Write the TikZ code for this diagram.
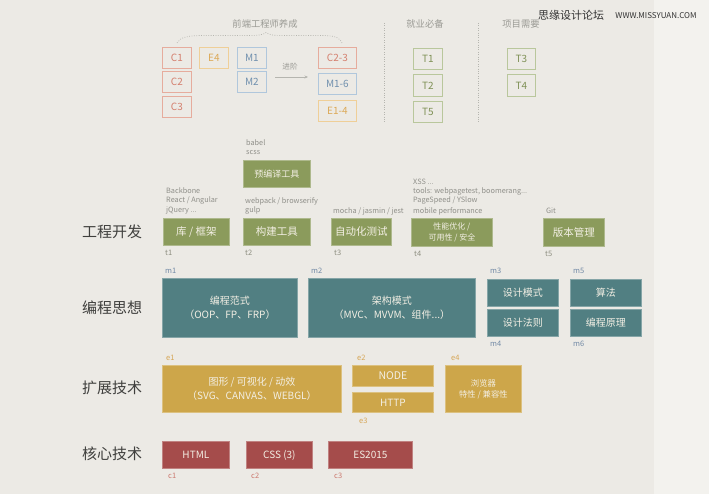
\documentclass[tikz,border=0pt]{standalone}
\usepackage{fontspec}
\newfontfamily\cjk{Noto Sans CJK SC}
\usetikzlibrary{arrows.meta}
\definecolor{bgcol}{HTML}{ECEAE5}
\definecolor{bgright}{HTML}{F3F2EE}
\definecolor{cborder}{HTML}{E6AC9D}
\definecolor{ctext}{HTML}{D47F6E}
\definecolor{eborder}{HTML}{EFCF98}
\definecolor{etext}{HTML}{DCA957}
\definecolor{mborder}{HTML}{B0C7DC}
\definecolor{mtext}{HTML}{7090AE}
\definecolor{tborder}{HTML}{B9C79C}
\definecolor{ttext}{HTML}{7F9156}
\definecolor{fgreen}{HTML}{8B9B5C}
\definecolor{fteal}{HTML}{517F82}
\definecolor{fgold}{HTML}{CDA64A}
\definecolor{fred}{HTML}{A54C4B}
\definecolor{boxtext}{HTML}{F3EFE4}
\definecolor{graytxt}{HTML}{8F8F89}
\definecolor{headtxt}{HTML}{9A9A94}
\definecolor{rowtxt}{HTML}{3F3F3D}
\definecolor{tlab}{HTML}{8D8E80}
\definecolor{mlab}{HTML}{7189A5}
\definecolor{elab}{HTML}{D6A656}
\definecolor{clab}{HTML}{CC7A70}
\definecolor{sepcol}{HTML}{B5B5AF}
\tikzset{
  every node/.style={font=\cjk, inner sep=0pt, align=center},
  obox/.style={draw=#1border, text=#1text, line width=0.8pt, anchor=north west,
    minimum width=29pt, minimum height=21pt, font=\cjk\fontsize{10}{12}\selectfont},
  fbox/.style={draw=#1!70!white, fill=#1, text=boxtext, line width=0.8pt, anchor=north west,
    minimum height=27pt},
  note/.style={anchor=west, text=graytxt, font=\cjk\fontsize{7.3}{8}\selectfont},
  idlab/.style={anchor=west, text=#1, font=\cjk\fontsize{7.5}{8}\selectfont},
  head/.style={text=headtxt, font=\cjk\fontsize{9.3}{11}\selectfont},
  rowlab/.style={text=rowtxt, font=\cjk\fontsize{15}{17}\selectfont},
  big/.style={font=\cjk\fontsize{10.5}{12}\selectfont},
  mid/.style={font=\cjk\fontsize{10}{13.5}\selectfont},
  sml/.style={font=\cjk\fontsize{8.3}{11}\selectfont},
  dots/.style={draw=sepcol, line width=0.7pt, dash pattern=on 0.8pt off 1.6pt}
}
\begin{document}
\begin{tikzpicture}[x=1pt,y=-1pt]
\useasboundingbox (0,0) rectangle (709,494);
\fill[bgcol] (0,0) rectangle (654,494);
\fill[bgright] (654,0) rectangle (709,494);

% ---------- top legend ----------
\node[head] (h1) at (265,24) {前端工程师养成};
\node[head] (h2) at (425,24) {就业必备};
\node[head] (h3) at (521,24) {项目需要};
\draw[dots] (177,43) .. controls (180,37) and (188,35.5) .. (205,35.5) -- (248,35.5)
  .. controls (258,35.5) and (263,35) .. (266,32.5)
  .. controls (269,35) and (274,35.5) .. (284,35.5) -- (322,35.5)
  .. controls (336,35.5) and (340,38) .. (342,43);
\draw[dots] (384,23) -- (384,122);
\draw[dots] (478,23) -- (478,122);

\node[obox=c] (C1) at (162,47) {C1};
\node[obox=c] (C2) at (162,71) {C2};
\node[obox=c] (C3) at (162,96) {C3};
\node[obox=e] (E4) at (199,47) {E4};
\node[obox=m] (M1) at (237,47) {M1};
\node[obox=m] (M2) at (237,71) {M2};
\node[obox=c, minimum width=38pt] (C23) at (318,47) {C2-3};
\node[obox=m, minimum width=38pt] (M16) at (318,73) {M1-6};
\node[obox=e, minimum width=38pt] (E14) at (318,100) {E1-4};
\node[obox=t] (T1) at (413,48) {T1};
\node[obox=t, minimum height=22pt] (T2) at (413,74) {T2};
\node[obox=t] (T5) at (413,101) {T5};
\node[obox=t, minimum width=28pt] (T3) at (507,48) {T3};
\node[obox=t, minimum width=28pt, minimum height=22pt] (T4) at (507,74) {T4};

\coordinate (arrA) at (275,77);
\coordinate (arrB) at (308,77);
\draw[draw=sepcol, line width=0.6pt, -{Stealth[length=3.5pt,width=3pt]}] (arrA) -- (arrB);
\node[text=headtxt, font=\cjk\fontsize{7.6}{9}\selectfont] (adv) at (290,67) {进阶};

% ---------- 工程开发 ----------
\node[rowlab] (r1) at (112,232) {工程开发};
\node[note] (n1) at (246,143) {babel};
\node[note] (n2) at (246,153) {scss};
\node[fbox=fgreen, minimum width=67pt, font=\cjk\fontsize{9}{11}\selectfont] (pre) at (243,160) {预编译工具};
\node[note] (n3) at (166,191) {Backbone};
\node[note] (n4) at (166,201) {React / Angular};
\node[note] (n5) at (166,211) {jQuery ...};
\node[note] (n6) at (245,201) {webpack / browserify};
\node[note] (n7) at (245,211) {gulp};
\node[note] (n8) at (333,211) {mocha / jasmin / jest};
\node[note] (n9) at (413,182) {XSS ...};
\node[note] (n10) at (413,192) {tools: webpagetest, boomerang...};
\node[note] (n11) at (413,201) {PageSpeed / YSlow};
\node[note] (n12) at (413,211) {mobile performance};
\node[note] (n13) at (546,211) {Git};
\node[fbox=fgreen, minimum width=66pt, big] (lib) at (163,218) {库 / 框架};
\node[fbox=fgreen, minimum width=67pt, big] (build) at (243,218) {构建工具};
\node[fbox=fgreen, minimum width=60pt, big] (test) at (331,218) {自动化测试};
\node[fbox=fgreen, minimum width=81pt, minimum height=28pt, font=\cjk\fontsize{8}{11}\selectfont] (perf) at (411,218) {性能优化 /\\可用性 / 安全};
\node[fbox=fgreen, minimum width=61pt, minimum height=28pt, big] (vcs) at (543,218) {版本管理};
\node[idlab=tlab] (t1) at (165,253) {t1};
\node[idlab=tlab] (t2) at (245,253) {t2};
\node[idlab=tlab] (t3) at (334,253) {t3};
\node[idlab=tlab] (t4) at (414,254) {t4};
\node[idlab=tlab] (t5) at (545,254) {t5};

% ---------- 编程思想 ----------
\node[rowlab] (r2) at (112,308) {编程思想};
\node[idlab=mlab] (m1) at (165,271) {m1};
\node[idlab=mlab] (m2) at (311,271) {m2};
\node[idlab=mlab] (m3) at (490,271) {m3};
\node[idlab=mlab] (m5) at (573,271) {m5};
\node[fbox=fteal, minimum width=135pt, minimum height=59pt, mid] (par) at (162,278) {编程范式\\（OOP、FP、FRP）};
\node[fbox=fteal, minimum width=167pt, minimum height=59pt, mid] (arch) at (308,278) {架构模式\\（MVC、MVVM、组件...）};
\node[fbox=fteal, minimum width=71pt, mid] (dp) at (487,279) {设计模式};
\node[fbox=fteal, minimum width=71pt, mid] (dr) at (487,309) {设计法则};
\node[fbox=fteal, minimum width=71pt, mid] (alg) at (570,279) {算法};
\node[fbox=fteal, minimum width=71pt, mid] (pp) at (570,309) {编程原理};
\node[idlab=mlab] (m4) at (490,344) {m4};
\node[idlab=mlab] (m6) at (573,344) {m6};

% ---------- 扩展技术 ----------
\node[rowlab] (r3) at (112,388) {扩展技术};
\node[idlab=elab] (e1) at (166,358) {e1};
\node[idlab=elab] (e2) at (357,358) {e2};
\node[idlab=elab] (e4) at (451,358) {e4};
\node[fbox=fgold, minimum width=179pt, minimum height=47pt, mid] (gfx) at (162,365) {图形 / 可视化 / 动效\\（SVG、CANVAS、WEBGL）};
\node[fbox=fgold, minimum width=81pt, minimum height=21pt, font=\cjk\fontsize{10.5}{12}\selectfont] (nodejs) at (352,365) {NODE};
\node[fbox=fgold, minimum width=81pt, minimum height=20pt, mid] (http) at (352,392) {HTTP};
\node[fbox=fgold, minimum width=76pt, minimum height=47pt, sml] (brw) at (445,365) {浏览器\\特性 / 兼容性};
\node[idlab=elab] (e3) at (359,421) {e3};

% ---------- 核心技术 ----------
\node[rowlab] (r4) at (112,454) {核心技术};
\node[fbox=fred, minimum width=67pt, mid] (html) at (162,441) {HTML};
\node[fbox=fred, minimum width=66pt, mid] (css) at (246,441) {CSS (3)};
\node[fbox=fred, minimum width=84pt, mid] (es) at (328,441) {ES2015};
\node[idlab=clab] (c1) at (168,476) {c1};
\node[idlab=clab] (c2) at (251,476) {c2};
\node[idlab=clab] (c3) at (334,476) {c3};

% ---------- watermark ----------
\node[text=black!80, font=\cjk\fontsize{11}{12}\selectfont] (wm1) at (571,15) {思缘设计论坛};
\node[text=black!80, font=\cjk\fontsize{8}{9}\selectfont] (wm2) at (656,16) {WWW.MISSYUAN.COM};
\end{tikzpicture}
\end{document}
